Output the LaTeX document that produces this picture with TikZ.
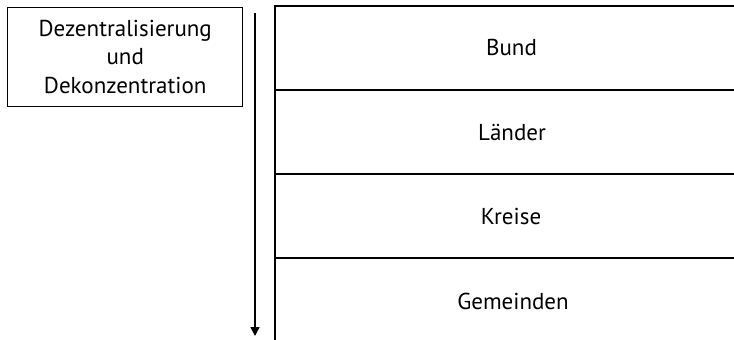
\documentclass[tikz,border=0pt]{standalone}
\usepackage{fontspec}
\setmainfont{PT Sans}
\usetikzlibrary{arrows.meta}
\begin{document}
\begin{tikzpicture}[x=1pt,y=-1pt,
  lbl/.style={font=\fontsize{23}{28.5}\selectfont, inner sep=0pt, align=center},
  ln/.style={line width=1.4pt, black}]
\useasboundingbox (0,0) rectangle (734,340);
\node[draw, line width=1.4pt, minimum width=235pt, minimum height=99pt, anchor=north west, lbl] (box) at (7,6.5) {Dezentralisierung\\und\\Dekonzentration};
\coordinate (atop) at (255,13);
\coordinate (abot) at (255,336);
\draw[ln, -{Triangle[length=9pt,width=9pt]}] (atop) -- (abot);
\coordinate (vtop) at (275,6);
\coordinate (vbot) at (275,340);
\draw[ln] (vbot) -- (vtop) -- (734,6);
\coordinate (h1l) at (275,90);
\coordinate (h2l) at (275,174);
\coordinate (h3l) at (275,258);
\draw[ln] (h1l) -- (734,90);
\draw[ln] (h2l) -- (734,174);
\draw[ln] (h3l) -- (734,258);
\node[lbl, anchor=base] (bund) at (511.5,55.5) {Bund};
\node[lbl, anchor=base] (laender) at (512,140) {Länder};
\node[lbl, anchor=base] (kreise) at (511,224.5) {Kreise};
\node[lbl, anchor=base] (gem) at (513,309) {Gemeinden};
\end{tikzpicture}
\end{document}
